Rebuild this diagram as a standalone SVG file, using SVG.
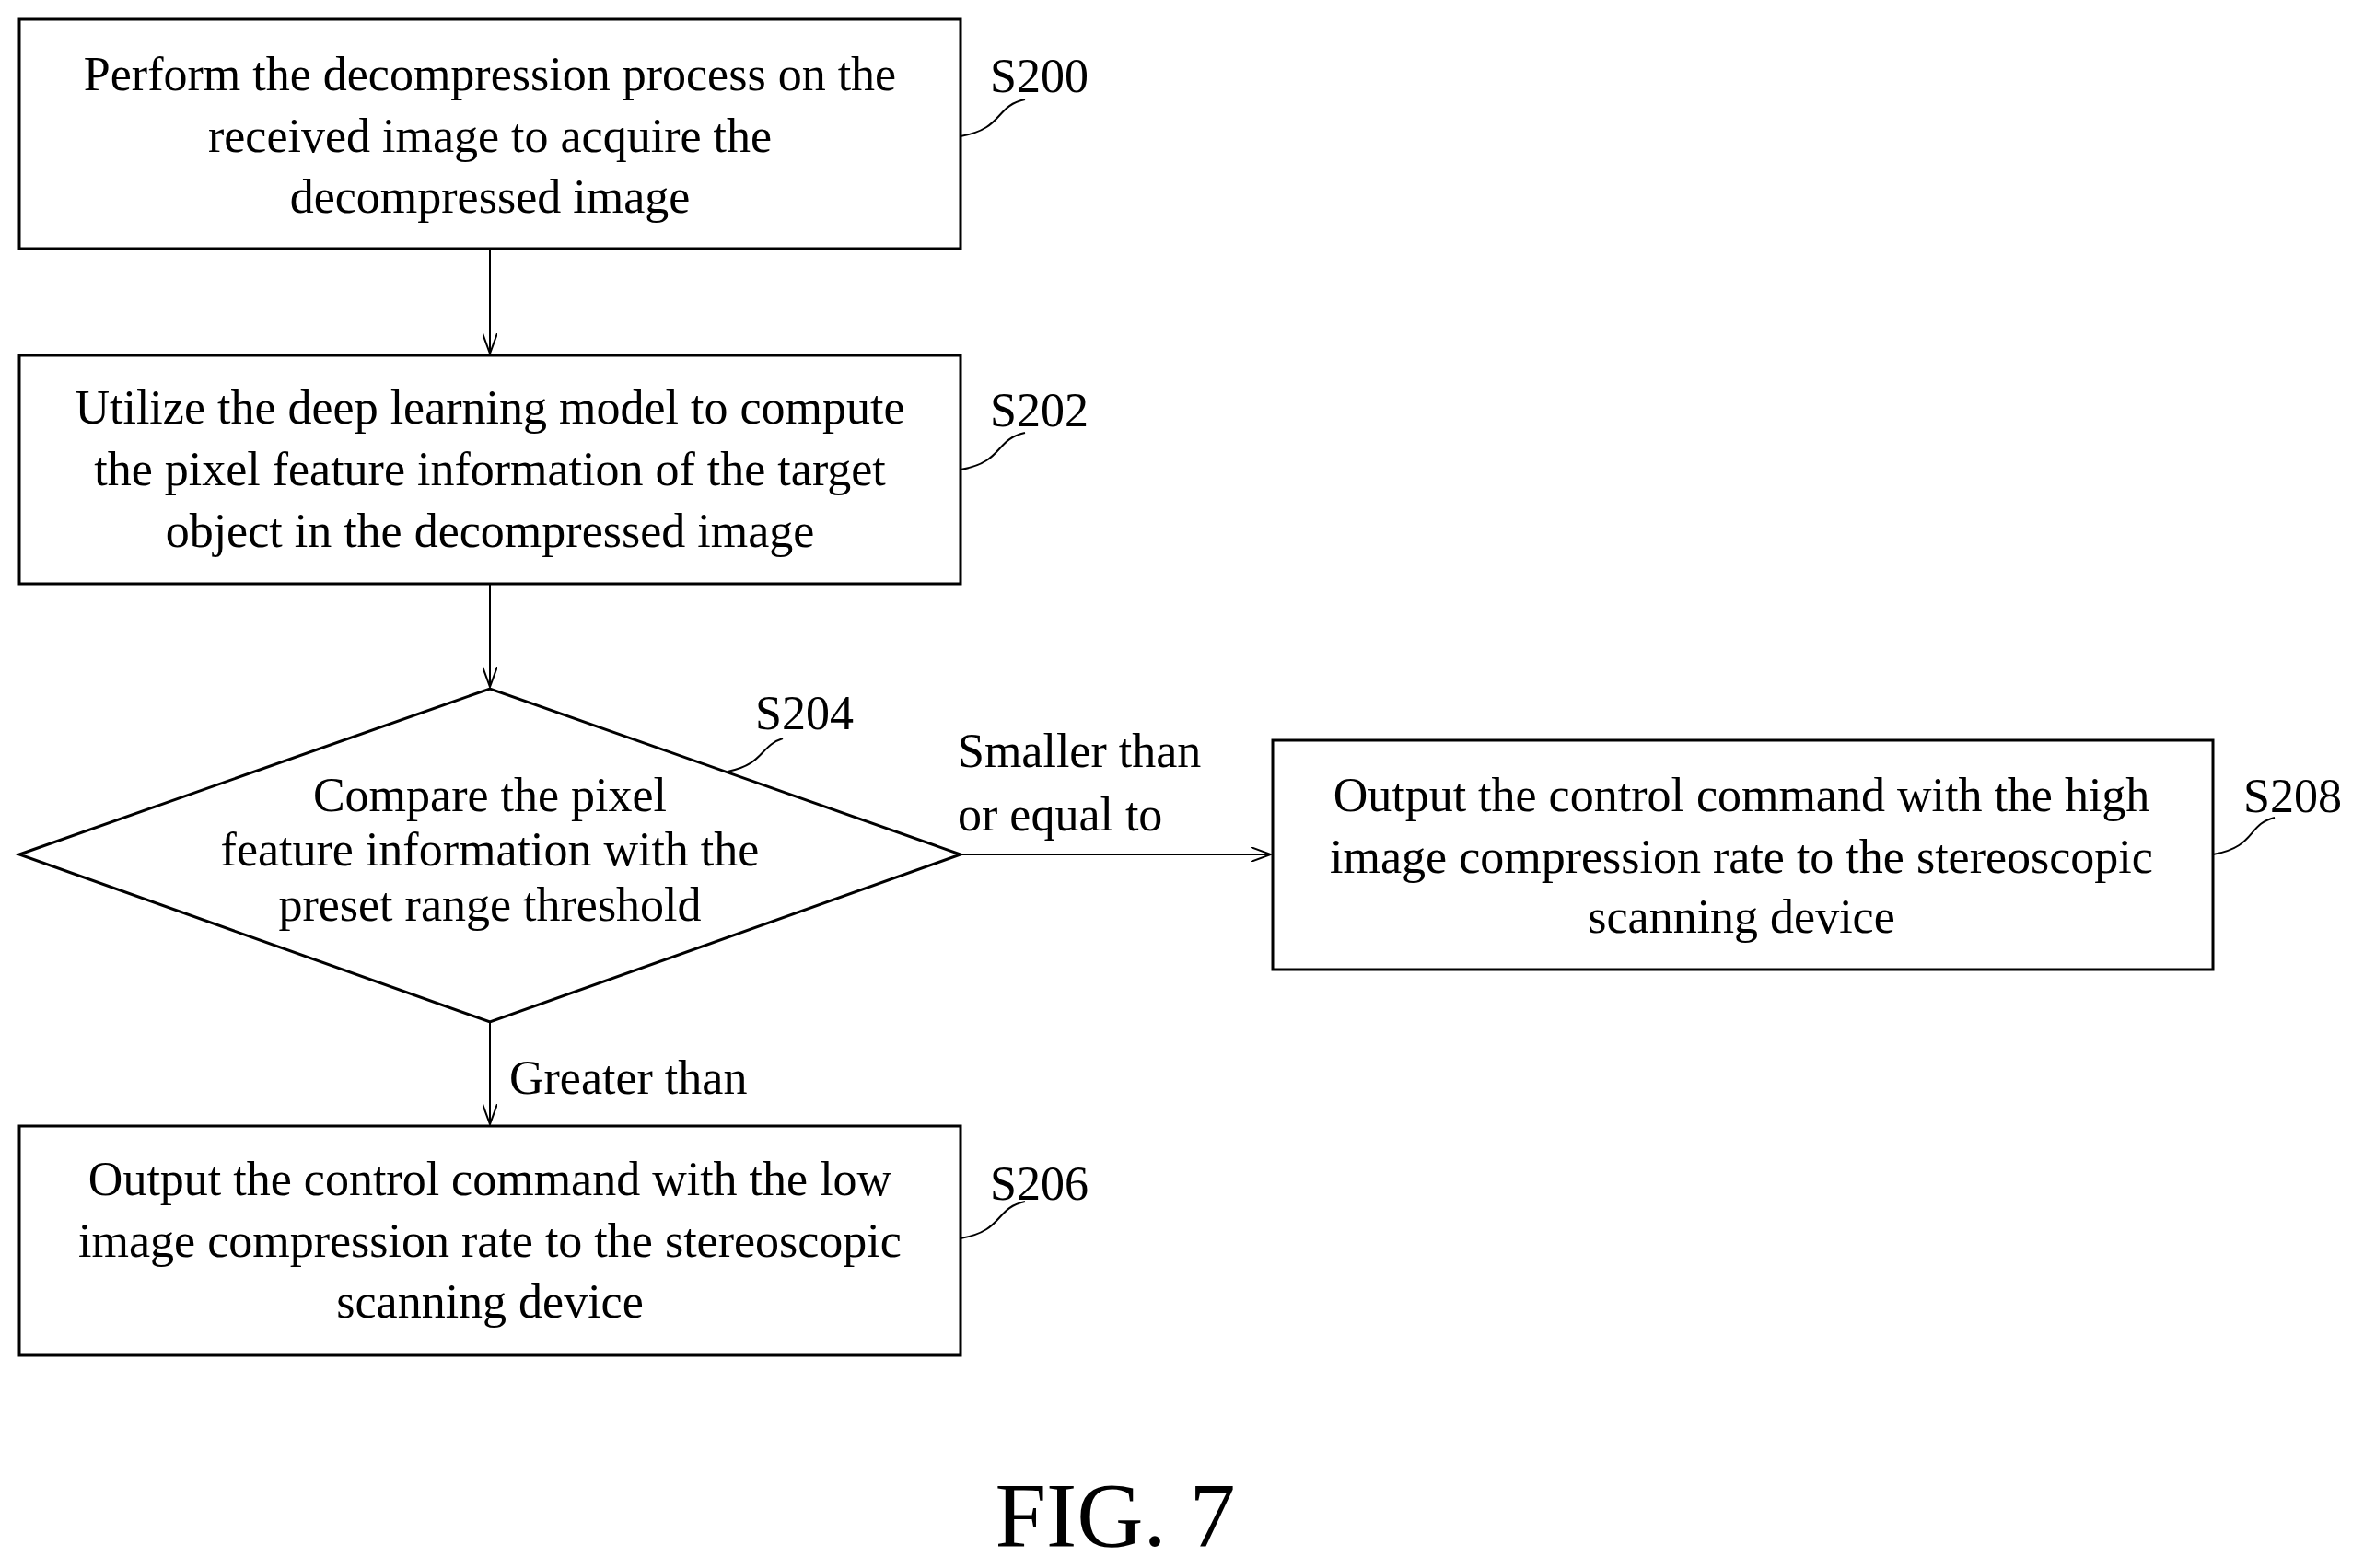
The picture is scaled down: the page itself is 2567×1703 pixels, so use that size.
<svg xmlns="http://www.w3.org/2000/svg" width="2567" height="1703" viewBox="0 0 2567 1703">
<style>
.b{fill:#fff;stroke:#000;stroke-width:3}
.t{font-family:"Liberation Serif",serif;font-size:52px;text-anchor:middle;dominant-baseline:central}
.l{font-family:"Liberation Serif",serif;font-size:52px;dominant-baseline:central}
.c{fill:none;stroke:#000;stroke-width:2}
</style>
<defs><marker id="a" markerWidth="24" markerHeight="16" refX="22" refY="8" orient="auto" markerUnits="userSpaceOnUse"><path d="M0,0 L22,8 L0,16" fill="none" stroke="#000" stroke-width="2"/></marker></defs>
<rect width="2567" height="1703" fill="#fff"/>
<g id="connectors">
<line class="c" x1="532" y1="270" x2="532" y2="384" marker-end="url(#a)"/>
<line class="c" x1="532" y1="634" x2="532" y2="746" marker-end="url(#a)"/>
<line class="c" x1="532" y1="1110" x2="532" y2="1221" marker-end="url(#a)"/>
<line class="c" x1="1043" y1="928" x2="1380" y2="928" marker-end="url(#a)"/>
<text class="l" x="1040" y="815">Smaller than</text>
<text class="l" x="1040" y="884">or equal to</text>
<text class="l" x="553" y="1170">Greater than</text>
</g>
<g id="S200">
<rect class="b" x="21" y="21" width="1022" height="249"/>
<text class="t" x="532" y="80">Perform the decompression process on the</text>
<text class="t" x="532" y="147">received image to acquire the</text>
<text class="t" x="532" y="213">decompressed image</text>
<path class="c" d="M1043,148 C1090,140 1080,115 1113,108"/>
<text class="l" x="1075" y="82">S200</text>
</g>
<g id="S202">
<rect class="b" x="21" y="386" width="1022" height="248"/>
<text class="t" x="532" y="442">Utilize the deep learning model to compute</text>
<text class="t" x="532" y="509">the pixel feature information of the target</text>
<text class="t" x="532" y="576">object in the decompressed image</text>
<path class="c" d="M1043,510 C1090,502 1080,477 1113,470"/>
<text class="l" x="1075" y="445">S202</text>
</g>
<g id="S204">
<polygon class="b" points="21,928 532,748 1043,928 532,1110"/>
<text class="t" x="532" y="863">Compare the pixel</text>
<text class="t" x="532" y="922">feature information with the</text>
<text class="t" x="532" y="982">preset range threshold</text>
<path class="c" d="M790,838 C830,830 825,810 850,802"/>
<text class="l" x="820" y="774">S204</text>
</g>
<g id="S206">
<rect class="b" x="21" y="1223" width="1022" height="249"/>
<text class="t" x="532" y="1280">Output the control command with the low</text>
<text class="t" x="532" y="1347">image compression rate to the stereoscopic</text>
<text class="t" x="532" y="1413">scanning device</text>
<path class="c" d="M1043,1345 C1090,1337 1080,1312 1113,1305"/>
<text class="l" x="1075" y="1285">S206</text>
</g>
<g id="S208">
<rect class="b" x="1382" y="804" width="1021" height="249"/>
<text class="t" x="1891" y="863">Output the control command with the high</text>
<text class="t" x="1891" y="930">image compression rate to the stereoscopic</text>
<text class="t" x="1891" y="995">scanning device</text>
<path class="c" d="M2403,928 C2450,920 2440,895 2470,888"/>
<text class="l" x="2436" y="864">S208</text>
</g>
<text class="t" x="1211" y="1645" style="font-size:100px">FIG. 7</text>
</svg>
